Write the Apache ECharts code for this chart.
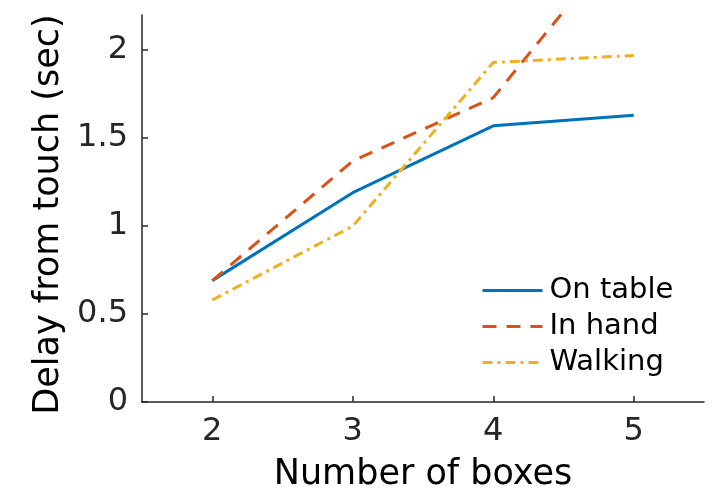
<!DOCTYPE html>
<html>
<head>
<meta charset="utf-8">
<script src="https://cdn.jsdelivr.net/npm/echarts@6/dist/echarts.min.js"></script>
<style>
html,body{margin:0;padding:0;background:#fff;}
#chart{width:720px;height:497px;}
</style>
</head>
<body>
<div id="chart"></div>
<script>
const boxes = [2, 3, 4, 5];
const onTable = [0.69, 1.19, 1.57, 1.63];
const inHand = [0.69, 1.37, 1.73, 2.71];
const walking = [0.58, 1.0, 1.93, 1.97];
const xTicks = [2, 3, 4, 5];
const yTicks = [0, 0.5, 1, 1.5, 2];
const seriesNames = ['On table', 'In hand', 'Walking'];

const pairs = arr => boxes.map((b, i) => [b, arr[i]]);
const FONT = 'DejaVu Sans';
const AX = '#262626';

const chart = echarts.init(document.getElementById('chart'));
chart.setOption({
  animation: false,
  backgroundColor: '#ffffff',
  textStyle: { fontFamily: FONT },
  grid: { left: 142, right: 16, top: 15, bottom: 93 },
  legend: {
    orient: 'vertical',
    left: 476,
    top: 271,
    itemWidth: 60,
    itemHeight: 20,
    itemGap: 7,
    itemStyle: { opacity: 0 },
    lineStyle: { width: 3 },
    textStyle: { fontFamily: FONT, fontSize: 29, color: '#000', padding: [0, 0, 0, 2] },
    data: seriesNames
  },
  xAxis: {
    type: 'value',
    min: 1.5,
    max: 5.5,
    name: 'Number of boxes',
    nameLocation: 'middle',
    nameGap: 55,
    nameTextStyle: { fontFamily: FONT, fontSize: 35, color: '#000' },
    axisLine: { show: true, lineStyle: { color: AX, width: 1.5 } },
    axisTick: { show: true, inside: true, length: 6, customValues: xTicks, lineStyle: { color: AX, width: 1.5 } },
    axisLabel: { customValues: xTicks, fontFamily: FONT, fontSize: 32, color: AX, margin: 14 },
    splitLine: { show: false }
  },
  yAxis: {
    type: 'value',
    min: 0,
    max: 2.2,
    name: 'Delay from touch (sec)',
    nameLocation: 'middle',
    nameGap: 74,
    nameTextStyle: { fontFamily: FONT, fontSize: 35, color: '#000', padding: [0, 12, 0, 0] },
    axisLine: { show: true, lineStyle: { color: AX, width: 1.5 } },
    axisTick: { show: true, inside: true, length: 6, customValues: yTicks, lineStyle: { color: AX, width: 1.5 } },
    axisLabel: { customValues: yTicks, fontFamily: FONT, fontSize: 32, color: AX, margin: 14 },
    splitLine: { show: false }
  },
  series: [
    {
      name: seriesNames[0], type: 'line', data: pairs(onTable), symbol: 'none',
      lineStyle: { color: '#0072BD', width: 3 }, itemStyle: { color: '#0072BD' }
    },
    {
      name: seriesNames[1], type: 'line', data: pairs(inHand), symbol: 'none',
      lineStyle: { color: '#D95319', width: 3, type: [14, 10] }, itemStyle: { color: '#D95319' }
    },
    {
      name: seriesNames[2], type: 'line', data: pairs(walking), symbol: 'none',
      lineStyle: { color: '#EDB120', width: 3, type: [10, 5, 3, 5] }, itemStyle: { color: '#EDB120' }
    }
  ]
});
</script>
</body>
</html>
